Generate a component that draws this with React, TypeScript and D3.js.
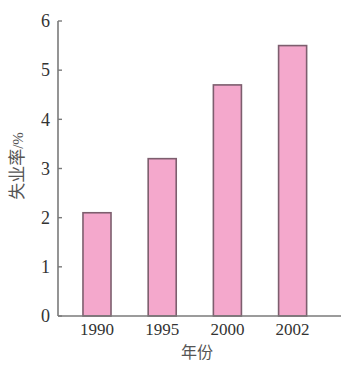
import React from "react";
import * as d3 from "d3";

const years = ["1990", "1995", "2000", "2002"];
const rates = [2.1, 3.2, 4.7, 5.5];
const yTicks = [0, 1, 2, 3, 4, 5, 6];

export default function App() {
  const W = 342, H = 367;
  const x0 = 58, y0 = 316, yTop = 21;
  const x = d3.scaleBand<string>().domain(years).range([x0, 331.6]).paddingInner(0.57).paddingOuter(0.383);
  const y = d3.scaleLinear().domain([0, 6]).range([y0, yTop]);
  const serif = "'Liberation Serif', 'Times New Roman', serif";
  const cjk = "'Noto Sans CJK SC', sans-serif";
  const axisColor = "#7a7a7a";
  return (
    <svg width={W} height={H} style={{ position: "absolute", left: 0, top: 0, background: "#fff" }}>
      {years.map((yr, i) => (
        <rect key={yr} x={x(yr)} y={y(rates[i])} width={x.bandwidth()} height={y0 - y(rates[i])}
          fill="#f4a8cc" stroke="#7d5e6e" strokeWidth={1.6} />
      ))}
      <line x1={x0} x2={x0} y1={y(6)} y2={y0} stroke={axisColor} strokeWidth={1.6} />
      <line x1={x0} x2={341} y1={y0} y2={y0} stroke={axisColor} strokeWidth={1.6} />
      {yTicks.map(t => (
        <g key={t}>
          <line x1={x0} x2={x0 + 4} y1={y(t)} y2={y(t)} stroke={axisColor} strokeWidth={1.4} />
          <text x={x0 - 8} y={y(t)} dy="0.35em" textAnchor="end" fontFamily={serif} fontSize={18} fill="#333">{t}</text>
        </g>
      ))}
      {years.map(yr => (
        <text key={yr} x={(x(yr) as number) + x.bandwidth() / 2} y={335} textAnchor="middle" fontFamily={serif} fontSize={17} fill="#333">{yr}</text>
      ))}
      <text x={197} y={358} textAnchor="middle" fontFamily={cjk} fontSize={16} fill="#555">年份</text>
      <text transform="translate(23,166) rotate(-90)" textAnchor="middle" fontFamily={cjk} fontSize={17} fill="#555">
        失业率<tspan fontFamily={serif} fontSize={15}>/%</tspan>
      </text>
    </svg>
  );
}
